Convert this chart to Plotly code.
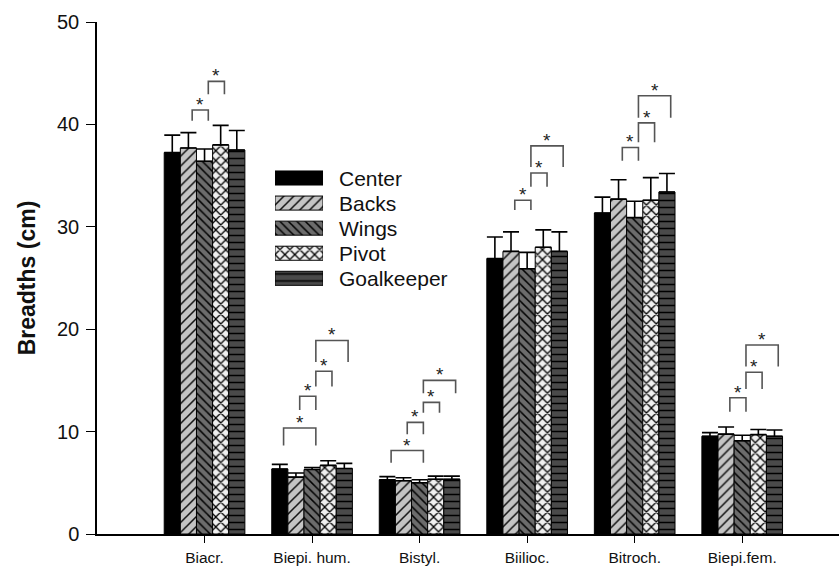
import plotly.graph_objects as go

# ---------------- data ----------------
categories = ["Biacr.", "Biepi. hum.", "Bistyl.", "Biilioc.", "Bitroch.", "Biepi.fem."]
groups = ["Center", "Backs", "Wings", "Pivot", "Goalkeeper"]

center = [37.25, 6.35, 5.30, 26.9, 31.35, 9.55]
center_sd = [1.7, 0.45, 0.30, 2.1, 1.55, 0.35]
backs = [37.7, 5.55, 5.20, 27.6, 32.7, 9.75]
backs_sd = [1.5, 0.40, 0.30, 1.9, 1.9, 0.70]
wings = [36.4, 6.30, 5.00, 25.9, 30.9, 9.10]
wings_sd = [1.2, 0.20, 0.30, 1.6, 1.6, 0.55]
pivot = [38.0, 6.70, 5.35, 28.0, 32.6, 9.70]
pivot_sd = [1.9, 0.45, 0.30, 1.7, 2.2, 0.50]
goalkeeper = [37.5, 6.40, 5.35, 27.6, 33.4, 9.55]
goalkeeper_sd = [1.9, 0.50, 0.30, 1.9, 1.8, 0.60]

# significance brackets: category index, group from, group to, bracket top, leg bottom
sig_cat = [0, 0, 1, 1, 1, 1, 2, 2, 2, 2, 3, 3, 3, 4, 4, 4, 5, 5, 5]
sig_from = [1, 2, 0, 1, 2, 2, 0, 1, 2, 2, 1, 2, 2, 1, 2, 2, 1, 2, 2]
sig_to = [2, 3, 2, 2, 3, 4, 2, 2, 3, 4, 2, 3, 4, 2, 3, 4, 2, 3, 4]
sig_top = [41.4, 44.2, 10.35, 13.45, 15.9, 18.9, 8.15, 10.9, 12.85, 15.0,
           32.6, 35.25, 37.9, 37.75, 40.15, 42.8, 13.3, 15.8, 18.45]
sig_leg = [40.35, 42.95, 8.65, 12.1, 14.4, 16.8, 6.95, 9.75, 11.85, 13.75,
           31.65, 33.9, 35.85, 36.45, 38.25, 40.65, 11.95, 14.15, 16.35]

values = [center, backs, wings, pivot, goalkeeper]
sds = [center_sd, backs_sd, wings_sd, pivot_sd, goalkeeper_sd]

# ---------------- styles ----------------
FONT = "Liberation Sans, Arial, Helvetica, sans-serif"
styles = [
    dict(color="#000000", pattern=dict(shape="")),
    dict(color="#c4c4c4", pattern=dict(shape="/", bgcolor="#c4c4c4", fgcolor="#111111",
                                       size=7, solidity=0.22, fillmode="replace")),
    dict(color="#6c6c6c", pattern=dict(shape="\\", bgcolor="#6c6c6c", fgcolor="#000000",
                                       size=6, solidity=0.25, fillmode="replace")),
    dict(color="#f0f0f0", pattern=dict(shape="x", bgcolor="#f0f0f0", fgcolor="#000000",
                                       size=7, solidity=0.33, fillmode="replace")),
    dict(color="#4a4a4a", pattern=dict(shape="-", bgcolor="#4a4a4a", fgcolor="#000000",
                                       size=7, solidity=0.22, fillmode="replace")),
]

n_groups = len(groups)
bargap = 0.25
bar_w = (1 - bargap) / n_groups
x_pos = [i + 1 for i in range(len(categories))]


def offset(k):
    return (k - (n_groups - 1) / 2) * bar_w


fig = go.Figure()
for k, name in enumerate(groups):
    st = styles[k]
    fig.add_trace(go.Bar(
        name=name, x=x_pos, y=values[k],
        marker=dict(color=st["color"], pattern=st["pattern"],
                    line=dict(color="#000000", width=1)),
        error_y=dict(type="data", symmetric=False, array=sds[k],
                     arrayminus=[0] * len(sds[k]), color="#000000",
                     thickness=1.6, width=8),
        showlegend=False,
    ))

# custom legend built with a helper axis so the swatches are large patterned blocks
for k, name in enumerate(groups):
    st = styles[k]
    fig.add_trace(go.Bar(
        x=[1], y=[k], orientation="h", width=0.56,
        marker=dict(color=st["color"], pattern=st["pattern"],
                    line=dict(color="#000000", width=1)),
        xaxis="x2", yaxis="y2", showlegend=False, hoverinfo="skip",
    ))
    fig.add_annotation(x=1, y=k, xref="x2", yref="y2", text=name, showarrow=False,
                       xanchor="left", yanchor="middle", xshift=14,
                       font=dict(family=FONT, size=21, color="#111111"))

# significance brackets
shift = 0.035
for c, a, b, top, leg in zip(sig_cat, sig_from, sig_to, sig_top, sig_leg):
    x1 = x_pos[c] + offset(a) + shift
    x2 = x_pos[c] + offset(b) + shift
    fig.add_shape(type="path", xref="x", yref="y",
                  path=f"M {x1},{leg} L {x1},{top} L {x2},{top} L {x2},{leg}",
                  line=dict(color="#555555", width=1.6))
    fig.add_annotation(x=(x1 + x2) / 2, y=top, xref="x", yref="y", text="*",
                       showarrow=False, yanchor="bottom", yshift=-7,
                       font=dict(family=FONT, size=19, color="#222222"))

fig.update_layout(
    width=839, height=568,
    margin=dict(l=97, r=0, t=22, b=34),
    paper_bgcolor="white", plot_bgcolor="white",
    barmode="group", bargap=bargap, bargroupgap=0,
    font=dict(family=FONT, color="#111111"),
    xaxis=dict(range=[0, 6.9], tickmode="array", tickvals=x_pos, ticktext=categories,
               showline=True, linecolor="#000000", linewidth=1.5,
               ticks="outside", ticklen=7, tickwidth=1.3, tickcolor="#000000",
               ticklabelstandoff=2,
               tickfont=dict(family=FONT, size=15.5, color="#111111"),
               showgrid=False, zeroline=False),
    yaxis=dict(range=[0, 50], tickmode="linear", tick0=0, dtick=10,
               showline=True, linecolor="#000000", linewidth=1.5,
               ticks="outside", ticklen=9, tickwidth=1.3, tickcolor="#000000",
               ticklabelstandoff=3,
               tickfont=dict(family=FONT, size=20, color="#111111"),
               title=dict(text="<b>Breadths (cm)</b>", standoff=15,
                          font=dict(family=FONT, size=23, color="#111111")),
               showgrid=False, zeroline=False),
    xaxis2=dict(domain=[0.2399, 0.3046], range=[0, 1], anchor="y2", visible=False,
                fixedrange=True),
    yaxis2=dict(domain=[0.4749, 0.7198], range=[4.5, -0.5], anchor="x2", visible=False,
                fixedrange=True),
)

fig.write_html(
    "out.html",
    config={"displayModeBar": False},
    post_script="document.body.style.margin='0px';document.body.style.overflow='hidden';",
)
